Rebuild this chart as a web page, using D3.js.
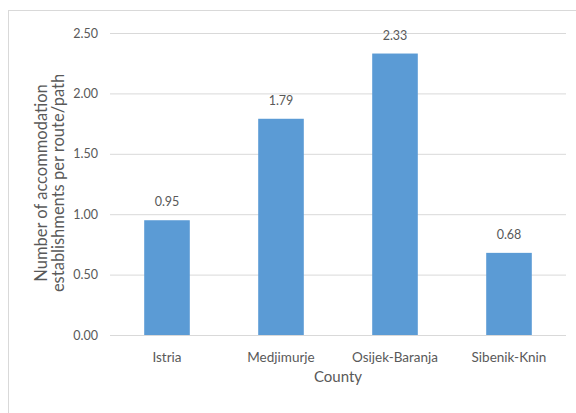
<!DOCTYPE html>
<html>
<head>
<meta charset="utf-8">
<script src="https://cdn.jsdelivr.net/npm/d3@7"></script>
<style>
  html, body { margin: 0; padding: 0; background: #fff; }
  svg { display: block; }
  text { font-family: Lato, "Open Sans", sans-serif; fill: #595959; }
</style>
</head>
<body>
<script>
// Accommodation establishments per cycling route/path, by county
const counties = ["Istria", "Medjimurje", "Osijek-Baranja", "Sibenik-Knin"];
const establishmentsPerRoute = [0.95, 1.79, 2.33, 0.68];
const yTicks = [0, 0.5, 1.0, 1.5, 2.0, 2.5];
const yTitleLines = ["Number of accommodation", "establishments per route/path"];
const xTitle = "County";

const W = 576, H = 413;
const margin = { top: 33, right: 10, bottom: 78, left: 110 };
const plotRight = 566;

const svg = d3.select("body").append("svg")
  .attr("width", W).attr("height", H);

// chart frame
svg.append("rect")
  .attr("x", 8.5).attr("y", 10.5)
  .attr("width", W).attr("height", H)
  .attr("fill", "none").attr("stroke", "#d9d9d9");

const x = d3.scaleBand()
  .domain(counties)
  .range([margin.left, plotRight])
  .paddingInner(0.6)
  .paddingOuter(0.3);

const y = d3.scaleLinear()
  .domain([0, 2.5])
  .range([H - margin.bottom, margin.top]);

// gridlines + tick labels
const yAxis = d3.axisLeft(y)
  .tickValues(yTicks)
  .tickFormat(d3.format(".2f"))
  .tickSize(-(plotRight - margin.left))
  .tickPadding(12);

const gy = svg.append("g")
  .attr("transform", `translate(${margin.left},0)`)
  .call(yAxis);
gy.select(".domain").remove();
gy.selectAll(".tick line").attr("stroke", "#d9d9d9").attr("stroke-width", 1);
gy.selectAll(".tick text")
  .attr("font-size", 12.5)
  .style("font-family", "Lato, sans-serif")
  .attr("fill", "#6a6a6a");

// bars
svg.append("g").selectAll("rect")
  .data(counties)
  .join("rect")
  .attr("x", d => x(d))
  .attr("width", x.bandwidth())
  .attr("y", (d, i) => y(establishmentsPerRoute[i]))
  .attr("height", (d, i) => y(0) - y(establishmentsPerRoute[i]))
  .attr("fill", "#5b9bd5");

// value labels
svg.append("g").selectAll("text")
  .data(counties)
  .join("text")
  .attr("x", d => x(d) + x.bandwidth() / 2)
  .attr("y", (d, i) => y(establishmentsPerRoute[i]) - 14)
  .attr("text-anchor", "middle")
  .attr("font-size", 12.5)
  .attr("fill", "#404040")
  .text((d, i) => establishmentsPerRoute[i].toFixed(2));

// category axis
const xAxis = d3.axisBottom(x).tickSize(0).tickPadding(17);
const gx = svg.append("g")
  .attr("transform", `translate(0,${y(0)})`)
  .call(xAxis);
gx.select(".domain").remove();
gx.selectAll(".tick text")
  .attr("font-size", 13.5)
  .style("font-family", "Lato, sans-serif")
  .attr("fill", "#595959");

// axis titles
svg.append("text")
  .attr("x", (margin.left + plotRight) / 2)
  .attr("y", 382)
  .attr("text-anchor", "middle")
  .attr("font-size", 15)
  .text(xTitle);

const yt = svg.append("text")
  .attr("transform", "translate(47,183) rotate(-90)")
  .attr("text-anchor", "middle")
  .attr("font-size", 16.5);
yt.selectAll("tspan")
  .data(yTitleLines)
  .join("tspan")
  .attr("x", 0)
  .attr("dy", (d, i) => i === 0 ? 0 : 16.5)
  .text(d => d);
</script>
</body>
</html>
